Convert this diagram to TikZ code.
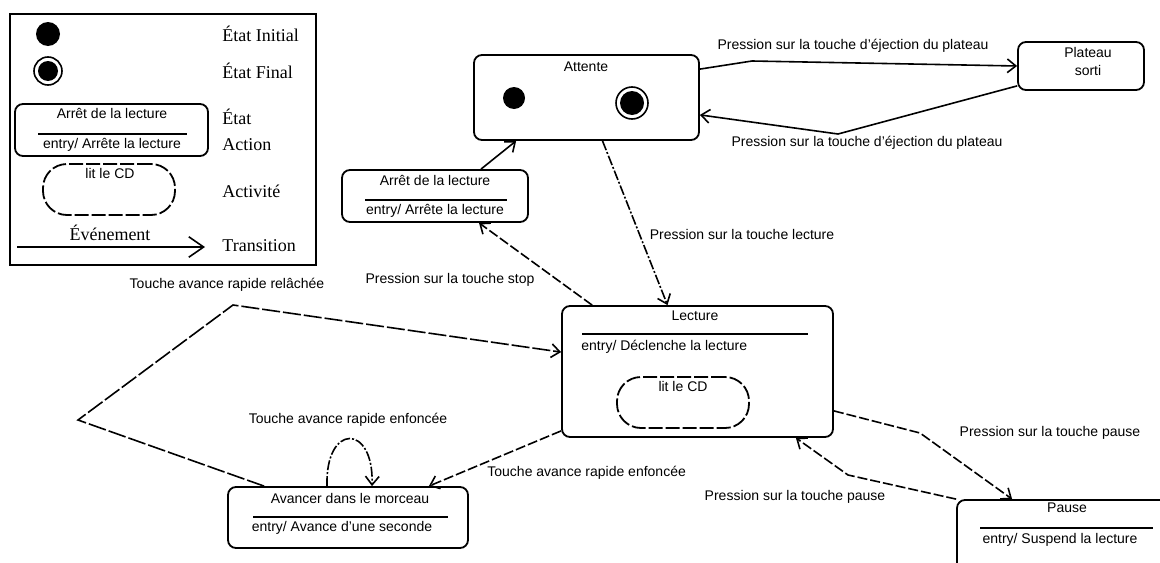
\documentclass[tikz,border=0pt]{standalone}
\usepackage{fontspec}
\setmainfont{Liberation Sans}
\newfontfamily\legfont{Liberation Serif}
\usetikzlibrary{arrows.meta,positioning,calc,fit}

\begin{document}
\begin{tikzpicture}[x=0.5pt,y=-0.5pt,
    font=\fontsize{7}{8}\selectfont,
    statebox/.style={draw,rounded corners=4pt,line width=0.9pt,inner sep=0pt},
    actbox/.style={draw,rounded corners=12pt,line width=0.9pt,inner sep=0pt,dash pattern=on 7pt off 1.5pt},
    sep/.style={line width=0.8pt},
    dot/.style={circle,fill,inner sep=0pt,minimum size=#1},
    ring/.style={circle,draw,line width=0.8pt,inner sep=0pt,minimum size=#1},
    legtext/.style={font=\legfont\fontsize{9}{10}\selectfont,anchor=west,inner sep=0pt},
    lbl/.style={inner sep=0pt},
    trans/.style={-{Straight Barb[length=1.5mm,width=2.4mm]},line width=0.8pt},
    transdash/.style={trans,dash pattern=on 5pt off 1.5pt},
    transdot/.style={trans,dash pattern=on 5pt off 1pt on 1pt off 1pt}
]
\useasboundingbox (0,0) rectangle (1160,562);

% legende
\node[draw,line width=0.9pt,inner sep=0pt,fit={(10,14)(316,265)}] (legend) {};
\node[dot=12pt] (leginit) at (48,34) {};
\node[ring=14pt] (legfinal) at (48,71) {};
\node[dot=10pt] (legfinalin) at (legfinal) {};
\node[legtext] (txinit) at (222,34) {État Initial};
\node[legtext] (txfinal) at (222,71) {État Final};
\node[statebox,fit={(15,104)(208,156)}] (legstate) {};
\node[lbl] (legstatetitle) at (112,113) {Arrêt de la lecture};
\draw[sep] (38,134) -- (187,134);
\node[lbl] (legstateentry) at (112,145) {entry/ Arrête la lecture};
\node[legtext] (txstate) at (222,117) {État};
\node[legtext] (txaction) at (222,145) {Action};
\node[actbox,fit={(43,164)(175,215)}] (legact) {};
\node[lbl] (legacttext) at (110,173) {lit le CD};
\node[legtext] (txact) at (222,191) {Activité};
\node[legtext,anchor=center] (txevent) at (110,233) {Événement};
\coordinate (legfrom) at (17,247);
\coordinate (legto) at (205,247);
\draw[-{Straight Barb[length=2.6mm,width=3.6mm]},line width=0.8pt] (legfrom) -- (legto);
\node[legtext] (txtrans) at (222,246) {Transition};

% etats
\node[statebox,fit={(474,55)(699,140)}] (attente) {};
\node[lbl] (attentetitle) at (586,67) {Attente};
\node[dot=11pt] (init) at (514,98) {};
\node[ring=16pt] (final) at (632,103) {};
\node[dot=12pt] (finalin) at (final) {};

\node[statebox,fit={(1018,42)(1144,90)}] (plateau) {};
\node[lbl,align=center] (plateautext) at (1088,61) {Plateau\\[1pt]sorti};

\node[statebox,fit={(342,170)(528,222)}] (arret) {};
\node[lbl] (arrettitle) at (435,180) {Arrêt de la lecture};
\draw[sep] (365,200) -- (507,200);
\node[lbl] (arretentry) at (435,211) {entry/ Arrête la lecture};

\node[statebox,fit={(562,306)(833,437)}] (lecture) {};
\node[lbl] (lecturetitle) at (695,316) {Lecture};
\draw[sep] (582,334) -- (808,334);
\node[lbl,anchor=west] (lectureentry) at (581,347) {entry/ Déclenche la lecture};
\node[actbox,fit={(617,377)(749,428)}] (litcd) {};
\node[lbl] (litcdtext) at (683,386) {lit le CD};

\node[statebox,fit={(228,487)(468,548)}] (avancer) {};
\node[lbl] (avancertitle) at (350,498) {Avancer dans le morceau};
\draw[sep] (253,517) -- (448,517);
\node[lbl] (avancerentry) at (342,528) {entry/ Avance d'une seconde};

\node[statebox,fit={(957,500)(1180,590)}] (pause) {};
\node[lbl] (pausetitle) at (1067,508) {Pause};
\draw[sep] (980,528) -- (1153,528);
\node[lbl] (pauseentry) at (1060,540) {entry/ Suspend la lecture};

% transitions
\coordinate (ej1) at (752,61);
\coordinate (ej2) at (838,134);
\draw[trans] ($(attente.north east)+(0,15)$) -- (ej1) -- (plateau.west);
\node[lbl] (ejecttop) at (853,46) {Pression sur la touche d'éjection du plateau};
\draw[trans] ($(plateau.south west)+(0,-5)$) -- (ej2) -- ($(attente.south east)+(0,-26)$);
\node[lbl] (ejectbot) at (867,143) {Pression sur la touche d'éjection du plateau};

\draw[trans] ($(arret.north)+(46,0)$) -- ($(attente.south west)+(43,0)$);

\draw[transdot] ($(attente.south)+(16,0)$) -- ($(lecture.north)+(-30,0)$);
\node[lbl] (lblplay) at (742,234) {Pression sur la touche lecture};

\draw[transdash] ($(lecture.north west)+(31,0)$) -- ($(arret.south)+(44,0)$);
\node[lbl] (lblstop) at (450,280) {Pression sur la touche stop};

\coordinate (rel1) at (78,420);
\coordinate (rel2) at (233,305);
\draw[trans,dash pattern=on 9pt off 1.5pt] ($(avancer.north west)+(37,0)$) -- (rel1) -- (rel2) -- ($(lecture.north west)+(0,47)$);
\node[lbl] (lblrel) at (227,285) {Touche avance rapide relâchée};

\draw[transdot] ($(avancer.north)+(-21,0)$) .. controls (325,423) and (374,423) .. ($(avancer.north)+(24,0)$);
\node[lbl] (lblloop) at (348,420) {Touche avance rapide enfoncée};

\draw[transdash] ($(lecture.south west)+(0,-7)$) -- ($(avancer.north east)+(-40,0)$);
\node[lbl,anchor=west] (lblff) at (487,473) {Touche avance rapide enfoncée};

\coordinate (pa1) at (920,433);
\coordinate (pa2) at (848,475);
\draw[transdash] ($(lecture.south east)+(0,-27)$) -- (pa1) -- ($(pause.north west)+(56,0)$);
\node[lbl] (lblpause) at (1050,433) {Pression sur la touche pause};
\draw[transdash] (pause.north west) -- (pa2) -- ($(lecture.south east)+(-38,0)$);
\node[lbl] (lblresume) at (795,497) {Pression sur la touche pause};
\end{tikzpicture}
\end{document}
